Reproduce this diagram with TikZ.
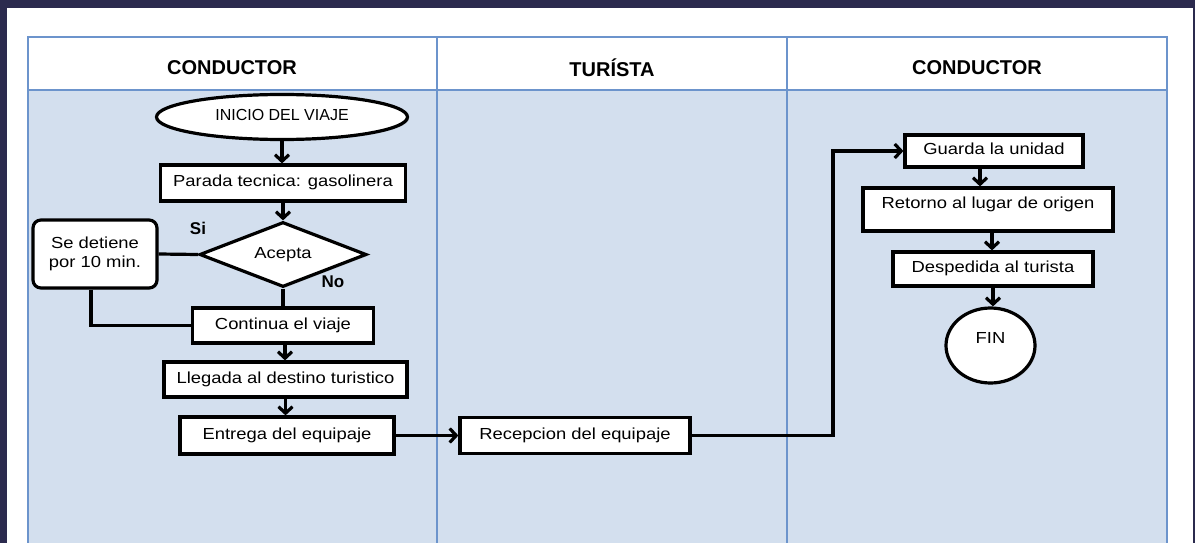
\documentclass[tikz,border=0pt]{standalone}
\usepackage{fontspec}
\setmainfont{Liberation Sans}
\newfontfamily\cajafont[FakeStretch=1.15]{Liberation Sans}
\usetikzlibrary{arrows.meta,shapes.geometric,shadows}

\definecolor{fondo}{RGB}{43,42,78}
\definecolor{carril}{RGB}{211,223,238}
\definecolor{rejilla}{RGB}{108,148,204}

\begin{document}
\begin{tikzpicture}[x=1pt, y=-1pt,
  caja/.style={draw=black, line width=3.2pt, fill=white, inner sep=0pt,
    font=\cajafont\fontsize{16}{19}\selectfont, text height=11.5pt, text depth=4.5pt,
    drop shadow={shadow xshift=1.5pt, shadow yshift=-1.5pt, opacity=0.3}},
  flecha/.style={line width=3.2pt, -{Straight Barb[length=6.5pt, width=14pt]}},
  trazo/.style={line width=3.2pt},
  titulo/.style={font=\bfseries\fontsize{20}{22}\selectfont}]

\useasboundingbox (0,0) rectangle (1195,543);
\fill[fondo] (0,0) rectangle (1195,543);
\fill[white] (7,8) rectangle (1193,543);

%%%%%%%%%%%%%%%%%%%%%%%%%%%%%%%
\fill[white] (28,37) rectangle (1167,90);
\fill[carril] (28,90) rectangle (1167,543);
\draw[rejilla, line width=1.3pt] (28,560) -- (28,37) -- (1167,37) -- (1167,560);
\draw[rejilla, line width=1.3pt] (28,90) -- (1167,90);
\draw[rejilla, line width=1.3pt] (437,37) -- (437,560);
\draw[rejilla, line width=1.3pt] (787,37) -- (787,560);

\node[titulo] (carril1) at (232,68) {CONDUCTOR};
\node[titulo] (carril2) at (612,68) {TURÍSTA};
\node[titulo] (carril3) at (977,68) {CONDUCTOR};

%%%%%%%%%%%%%%%%%%%%%%%%%%%%%%%
\node[caja, ellipse, font=\fontsize{16}{19}\selectfont, minimum width=251, minimum height=45] (inicio) at (282,117) {INICIO DEL VIAJE};
\node[caja, minimum width=245, minimum height=36] (parada) at (283,183) {Parada tecnica: gasolinera};
\node[caja, diamond, aspect=2.5, minimum width=167, minimum height=65] (acepta) at (283,254.5) {Acepta};
\node[caja, rounded corners=8pt, align=center, text height=, text depth=,
  minimum width=124, minimum height=68] (detiene) at (95,254) {Se detiene\\por 10 min.};
\node[caja, minimum width=181, minimum height=35] (continua) at (283,325.5) {Continua el viaje};
\node[caja, minimum width=243, minimum height=35] (llegada) at (285.5,379.5) {Llegada al destino turistico};
\node[caja, minimum width=214, minimum height=37] (entrega) at (287,435.5) {Entrega del equipaje};

\node[font=\bfseries\fontsize{17}{19}\selectfont] (si) at (198,228) {Si};
\node[font=\bfseries\fontsize{17}{19}\selectfont] (no) at (333,282) {No};

%%%%%%%%%%%%%%%%%%%%%%%%%%%%%%%
\node[caja, minimum width=230, minimum height=36] (recepcion) at (575,435.5) {Recepcion del equipaje};

%%%%%%%%%%%%%%%%%%%%%%%%%%%%%%%
\node[caja, minimum width=178, minimum height=32] (guarda) at (994,151) {Guarda la unidad};
\node[caja, minimum width=250, minimum height=43, text depth=14pt] (retorno) at (988,209.5) {Retorno al lugar de origen};
\node[caja, minimum width=200, minimum height=34] (despedida) at (993,269) {Despedida al turista};
\node[caja, ellipse, minimum width=89, minimum height=75, text height=12pt, text depth=17pt] (fin) at (990.5,345.5) {FIN};

\coordinate (codo) at (833,435.5);

%%%%%%%%%%%%%%%%%%%%%%%%%%%%%%%
\draw[flecha] (inicio.south) -- (inicio.south |- parada.north);
\draw[flecha] (parada.south) -- (parada.south |- acepta.north);
\draw[trazo] (acepta.west) -- (detiene.east);
\draw[trazo] (acepta.south) -- (acepta.south |- continua.north);
\draw[trazo] ([xshift=-4pt]detiene.south) |- (continua.west);
\draw[flecha] ([xshift=2pt]continua.south) -- ([xshift=2pt]continua.south |- llegada.north);
\draw[flecha] (llegada.south) -- (llegada.south |- entrega.north);
\draw[flecha] (entrega.east) -- (recepcion.west);
\draw[flecha] (recepcion.east) -- (codo) |- (guarda.west);
\draw[flecha] ([xshift=-14pt]guarda.south) -- ([xshift=-14pt]guarda.south |- retorno.north);
\draw[flecha] ([xshift=4pt]retorno.south) -- ([xshift=4pt]retorno.south |- despedida.north);
\draw[flecha] (despedida.south) -- (despedida.south |- fin.north);

\end{tikzpicture}
\end{document}
